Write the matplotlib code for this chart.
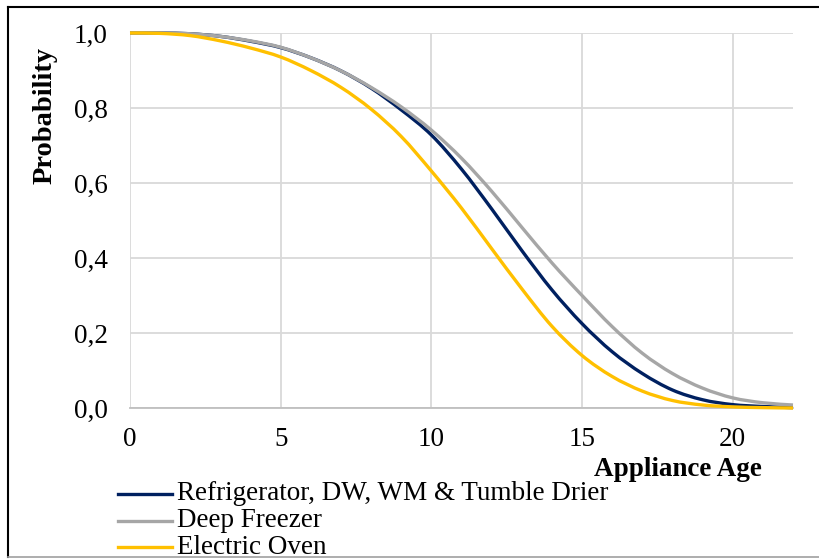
import matplotlib
matplotlib.use("Agg")
import matplotlib.pyplot as plt
from matplotlib.lines import Line2D
from matplotlib.path import Path
from matplotlib.patches import PathPatch

# Data (survival probability by appliance age)
age = list(range(0, 23))
fridge = [1.0, 1.0, 0.998, 0.991, 0.978, 0.961, 0.934, 0.899, 0.853, 0.795, 0.728,
          0.637, 0.531, 0.42, 0.315, 0.225, 0.15, 0.092, 0.048, 0.022, 0.009, 0.004, 0.001]
freezer = [1.0, 1.0, 0.998, 0.991, 0.979, 0.962, 0.934, 0.899, 0.855, 0.803, 0.741,
           0.666, 0.578, 0.482, 0.387, 0.3, 0.217, 0.146, 0.092, 0.053, 0.027, 0.014, 0.008]
oven = [1.0, 0.999, 0.993, 0.979, 0.96, 0.936, 0.9, 0.855, 0.797, 0.724, 0.632,
        0.533, 0.425, 0.318, 0.218, 0.14, 0.084, 0.045, 0.02, 0.008, 0.003, 0.001, 0.0]

labels = ["Refrigerator, DW, WM & Tumble Drier", "Deep Freezer", "Electric Oven"]
colors = ["#002060", "#A6A6A6", "#FFC000"]

FS = 19.5
plt.rcParams["font.family"] = ["Liberation Serif", "DejaVu Serif"]

W, H = 819, 559
fig = plt.figure(figsize=(W / 100, H / 100), dpi=100)
ax = fig.add_axes([130 / W, 1 - 408 / H, (793 - 130) / W, (408 - 33) / H])


#Smoothed line like Excel: bezier segments through the data points
def smooth_path(xs, ys, t=1 / 6):
    verts = [(xs[0], ys[0])]
    codes = [Path.MOVETO]
    n = len(xs)
    for i in range(n - 1):
        x0, y0 = xs[max(i - 1, 0)], ys[max(i - 1, 0)]
        x1, y1 = xs[i], ys[i]
        x2, y2 = xs[i + 1], ys[i + 1]
        x3, y3 = xs[min(i + 2, n - 1)], ys[min(i + 2, n - 1)]
        verts += [(x1 + (x2 - x0) * t, y1 + (y2 - y0) * t),
                  (x2 - (x3 - x1) * t, y2 - (y3 - y1) * t),
                  (x2, y2)]
        codes += [Path.CURVE4] * 3
    return Path(verts, codes)


for ys, c in zip([fridge, freezer, oven], colors):
    ax.add_patch(PathPatch(smooth_path(age, ys), facecolor="none", edgecolor=c,
                           lw=2.4, clip_on=False, zorder=3, capstyle="butt"))

ax.set_xlim(0, 22)
ax.set_ylim(0, 1)
ax.set_xticks([0, 5, 10, 15, 20])
ax.set_yticks([0, 0.2, 0.4, 0.6, 0.8, 1.0])
ax.set_yticklabels(["0,0", "0,2", "0,4", "0,6", "0,8", "1,0"])
ax.tick_params(length=0, labelsize=FS)
ax.tick_params(axis="y", pad=16)
ax.tick_params(axis="x", pad=14)
ax.grid(True, color="#D9D9D9", lw=1.3)
ax.set_axisbelow(True)
for s in ["top", "right", "left"]:
    ax.spines[s].set_visible(False)
ax.spines["bottom"].set_color("#BFBFBF")
ax.spines["bottom"].set_linewidth(1.3)

fig.text(45 / W, 1 - 116 / H, "Probability", fontsize=20.5, fontweight="bold",
         rotation=90, ha="center", va="center")
fig.text(762 / W, 1 - 470 / H, "Appliance Age", fontsize=FS, fontweight="bold",
         ha="right", va="center")

# Legend drawn by hand to get the tight row spacing
for i, (lab, c) in enumerate(zip(labels, colors)):
    yy = 1 - (494 + 26.7 * i) / H
    fig.add_artist(Line2D([118 / W, 172 / W], [yy, yy], color=c, lw=2.4))
    fig.text(177 / W, yy, lab, fontsize=FS, ha="left", va="center")

# Outer frame
fig.add_artist(Line2D([8 / W, 1], [1 - 7 / H, 1 - 7 / H], color="black", lw=1.5))
fig.add_artist(Line2D([8 / W, 8 / W], [1 - 7 / H, 1 - 557 / H], color="black", lw=1.5))
fig.add_artist(Line2D([8 / W, 1], [1 - 557 / H, 1 - 557 / H], color="#A0A0A0", lw=1.2))

plt.savefig("out.png", dpi=100)
